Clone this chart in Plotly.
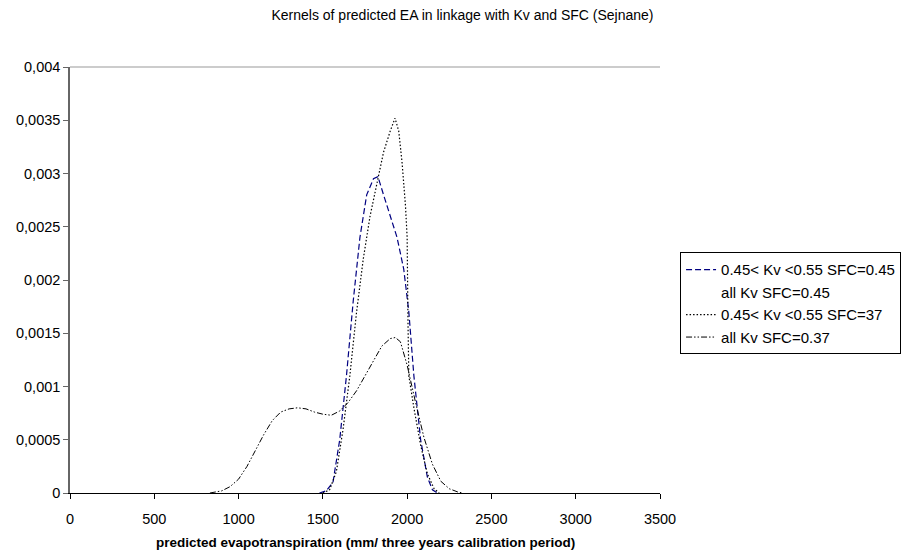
import plotly.graph_objects as go

# Series values (x: mm, y: density)
x_kv45 = [1480, 1520, 1560, 1600, 1640, 1680, 1720, 1760, 1800, 1827, 1860, 1900, 1940, 1980, 2010, 2040, 2080, 2120, 2150, 2180]
y_kv45 = [0, 0.00002, 0.0001, 0.0005, 0.0011, 0.0018, 0.0024, 0.0028, 0.00295, 0.00297, 0.0028, 0.0026, 0.0024, 0.0021, 0.0017, 0.0011, 0.0005, 0.00015, 0.00003, 0]

x_all45 = x_kv45
y_all45 = y_kv45

x_kv37 = [1500, 1540, 1580, 1620, 1660, 1700, 1740, 1780, 1820, 1860, 1900, 1928, 1950, 1970, 1990, 2000, 2005, 2010, 2040, 2080, 2120, 2160, 2190]
y_kv37 = [0, 0.00003, 0.0002, 0.0006, 0.0011, 0.0017, 0.0022, 0.0026, 0.0029, 0.0032, 0.0034, 0.00352, 0.0034, 0.0031, 0.0027, 0.0024, 0.0016, 0.0011, 0.0008, 0.00045, 0.00018, 0.00004, 0]

x_all37 = [830, 900, 950, 1000, 1050, 1100, 1150, 1200, 1250, 1300, 1350, 1400, 1450, 1500, 1550, 1600, 1650, 1700, 1750, 1800, 1850, 1900, 1930, 1960, 2000, 2050, 2100, 2150, 2200, 2250, 2300, 2330]
y_all37 = [0, 0.00002, 0.00006, 0.00013, 0.00025, 0.0004, 0.00055, 0.00068, 0.00076, 0.00079, 0.0008, 0.00079, 0.00076, 0.00074, 0.00073, 0.00077, 0.00085, 0.00096, 0.0011, 0.00125, 0.00138, 0.00145, 0.00146, 0.00142, 0.0012, 0.00085, 0.00052, 0.00027, 0.00011, 0.00004, 0.00001, 0]

names = ["0.45< Kv <0.55 SFC=0.45", "all Kv SFC=0.45", "0.45< Kv <0.55 SFC=37", "all Kv SFC=0.37"]
x_ticks = [0, 500, 1000, 1500, 2000, 2500, 3000, 3500]

fig = go.Figure()
fig.add_trace(go.Scatter(x=x_all45, y=y_all45, mode="lines", name=names[1], legendrank=2,
                         line=dict(color="white", width=1)))
fig.add_trace(go.Scatter(x=x_kv45, y=y_kv45, mode="lines", name=names[0], legendrank=1,
                         line=dict(color="#000080", width=1.2, dash="6px,3px")))
fig.add_trace(go.Scatter(x=x_kv37, y=y_kv37, mode="lines", name=names[2], legendrank=3,
                         line=dict(color="black", width=1.2, dash="1.5px,2px")))
fig.add_trace(go.Scatter(x=x_all37, y=y_all37, mode="lines", name=names[3], legendrank=4,
                         line=dict(color="black", width=1, dash="6px,2px,1.5px,2px,1.5px,2px")))

fig.update_layout(
    width=909, height=550,
    paper_bgcolor="white", plot_bgcolor="white",
    margin=dict(l=62, r=257, t=59, b=65, autoexpand=False),
    separators=", ",
    font=dict(family="Arial, Liberation Sans, sans-serif", size=14, color="black"),
    title=dict(text="Kernels of predicted EA in linkage with Kv and SFC (Sejnane)",
               x=0.5, xanchor="center", y=0.987, yanchor="middle", font=dict(size=14)),
    showlegend=True,
    legend=dict(x=1.034, xanchor="left", y=0.565, yanchor="top",
                bordercolor="black", borderwidth=1, bgcolor="white",
                font=dict(size=15), tracegroupgap=0, itemwidth=30),
    xaxis=dict(range=[0, 3500], tickvals=x_ticks, showgrid=False, zeroline=False,
               showline=True, linecolor="black", linewidth=1,
               ticks="outside", ticklen=5, tickcolor="black", tickfont=dict(size=14.5),
               ticklabelstandoff=8),
    yaxis=dict(range=[0, 0.004], dtick=0.0005, showgrid=False, zeroline=False,
               showline=True, linecolor="#666666", linewidth=1.5,
               ticks="outside", ticklen=5, tickcolor="#666666", tickfont=dict(size=14.5)),
    annotations=[dict(text="<b>predicted evapotranspiration (mm/ three years calibration period)</b>",
                      xref="paper", yref="paper", x=0.5, y=0, xanchor="center", yanchor="top",
                      yshift=-40, showarrow=False, font=dict(size=13.5))],
)
fig.add_shape(type="line", xref="paper", yref="paper", x0=0, x1=1, y0=1, y1=1,
              line=dict(color="#999999", width=1))

fig.write_html("out.html")
